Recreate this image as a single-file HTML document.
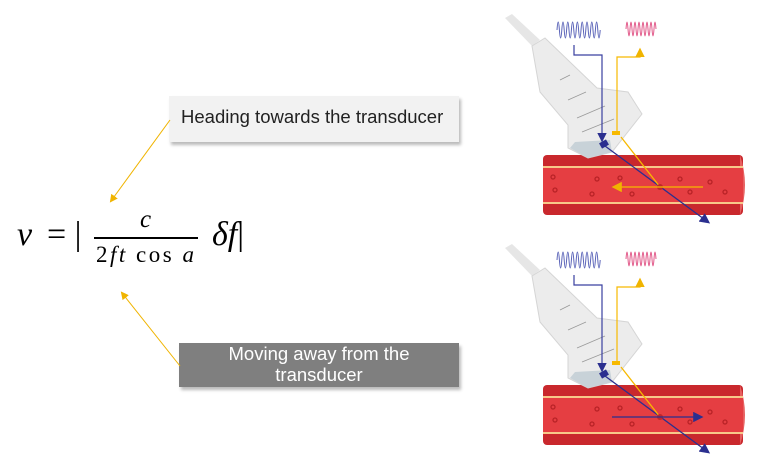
<!DOCTYPE html>
<html><head><meta charset="utf-8"><style>
body{margin:0;width:766px;height:470px;background:#fff;overflow:hidden;position:relative;font-family:"Liberation Sans",sans-serif}
.b1{position:absolute;left:169px;top:96px;width:290px;height:46px;background:#f2f2f2;box-shadow:2px 3px 3px #bbb;font-size:18.5px;color:#222;line-height:42px;text-indent:12px;white-space:nowrap}
.b2{position:absolute;left:179px;top:343px;width:280px;height:44px;background:#7f7f7f;box-shadow:2px 3px 3px #bbb;font-size:18.5px;color:#fff;text-align:center;line-height:21px;padding-top:0px;box-sizing:border-box}
.m{position:absolute;font-family:"Liberation Serif",serif;font-style:italic;color:#000;white-space:nowrap}
</style></head><body>
<div class="b1">Heading towards the transducer</div>
<div class="b2">Moving away from the<br>transducer</div>
<div class="m" style="left:17px;top:216px;font-size:34px">v</div>
<div class="m" style="left:47px;top:216px;font-size:34px;font-style:normal">= |</div>
<div class="m" style="left:140px;top:206px;font-size:25px">c</div>
<div style="position:absolute;left:94px;top:237px;width:104px;height:2px;background:#000"></div>
<div class="m" style="left:96px;top:242px;font-size:23px;letter-spacing:2.5px"><span style="font-style:normal">2</span>ft <span style="font-style:normal">cos</span> a</div>
<div class="m" style="left:212px;top:216px;font-size:34px">δf<span style="font-style:normal">|</span></div>
<svg width="766" height="470" style="position:absolute;left:0;top:0">
<defs>
<marker id="ay" markerWidth="8" markerHeight="8" refX="6" refY="4" orient="auto"><path d="M0,0L8,4L0,8z" fill="#f0b400"/></marker>
<marker id="ab" markerWidth="8" markerHeight="8" refX="6" refY="4" orient="auto"><path d="M0,0L8,4L0,8z" fill="#2b2f8f"/></marker>
<g id="ill">
<rect x="543" y="155" width="200" height="60" rx="4" fill="#c9282d"/>
<path d="M740,155 q10,30 0,60" fill="#e76060"/>
<rect x="543" y="167" width="200" height="36" fill="#e53e42"/>
<line x1="543" y1="167" x2="743" y2="167" stroke="#f7c98a" stroke-width="2"/>
<line x1="543" y1="203" x2="743" y2="203" stroke="#f7c98a" stroke-width="2"/>
<g fill="none" stroke="#b82226" stroke-width="1.3"><circle cx="553" cy="177" r="2"/><circle cx="597" cy="179" r="2"/><circle cx="620" cy="178" r="2"/><circle cx="680" cy="179" r="2"/><circle cx="710" cy="182" r="2"/><circle cx="555" cy="190" r="2"/><circle cx="592" cy="194" r="2"/><circle cx="632" cy="194" r="2"/><circle cx="690" cy="192" r="2"/><circle cx="725" cy="192" r="2"/></g>
<path d="M505,18 L512,14 L540,40 L532,46z" fill="#e6e6e6"/>
<path d="M532,46 L545,38 L597,88 L628,92 L642,114 L612,152 L588,158 L568,148 L568,125 L540,92z" fill="#ececec" stroke="#d5d5d5"/>
<path d="M575,142 L610,140 L612,152 L588,158 L570,148z" fill="#c8d2d8"/>
<g fill="none" stroke="#999" stroke-width="0.8"><path d="M560,80 l10,-5"/><path d="M568,100 l18,-8"/><path d="M577,118 l28,-12"/><path d="M582,132 l32,-13"/></g>
<path d="M557,30 q1.2,-16 2.4,0 t2.4,0 t2.4,0 t2.4,0 t2.4,0 t2.4,0 t2.4,0 t2.4,0 t2.4,0 t2.4,0 t2.4,0 t2.4,0 t2.4,0 t2.4,0 t2.4,0 t2.4,0 t2.4,0 t2.4,0" fill="none" stroke="#5a63b8" stroke-width="1"/>
<path d="M626,29 q1,-14 2,0 t2,0 t2,0 t2,0 t2,0 t2,0 t2,0 t2,0 t2,0 t2,0 t2,0 t2,0 t2,0 t2,0 t2,0" fill="none" stroke="#e25a8a" stroke-width="1"/>
<polyline points="574,45 574,55 602,55 602,140" fill="none" stroke="#3a40a0" stroke-width="1.2" marker-end="url(#ab)"/>
<polyline points="617,133 617,57 640,57 640,50" fill="none" stroke="#f7b900" stroke-width="1.2" marker-end="url(#ay)"/>
<rect x="600" y="141" width="8" height="6" fill="#2b2f8f" transform="rotate(-30 604 144)"/>
<rect x="612" y="131" width="8" height="4" fill="#f7b900"/>
<line x1="605" y1="146" x2="708" y2="222" stroke="#2b2f8f" stroke-width="1.3" marker-end="url(#ab)"/>
<line x1="660" y1="187" x2="621" y2="137" stroke="#f7b900" stroke-width="1.3"/>
<circle cx="660" cy="187" r="3" fill="#c0262a"/>
</g>
</defs>
<use href="#ill"/>
<line x1="703" y1="187" x2="614" y2="187" stroke="#f7b900" stroke-width="1.3" marker-end="url(#ay)"/>
<use href="#ill" transform="translate(0,230)"/>
<line x1="612" y1="417" x2="701" y2="417" stroke="#2b2f8f" stroke-width="1.3" marker-end="url(#ab)"/>
<line x1="170" y1="120" x2="111" y2="201" stroke="#f0b400" stroke-width="1" marker-end="url(#ay)"/>
<line x1="180" y1="366" x2="122" y2="293" stroke="#f0b400" stroke-width="1" marker-end="url(#ay)"/>
</svg>
</body></html>
